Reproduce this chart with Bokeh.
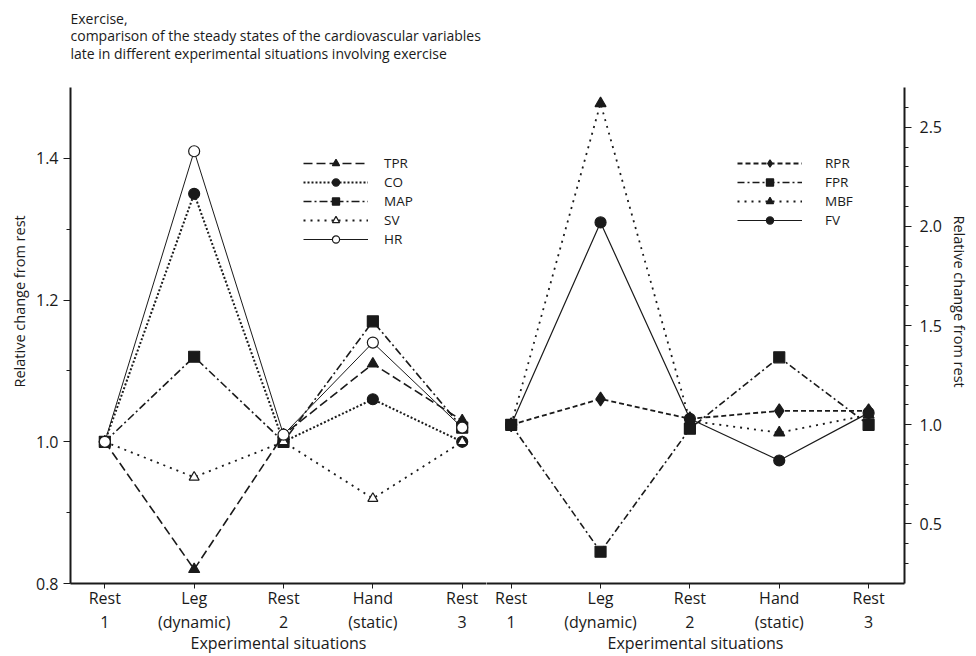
from bokeh.plotting import figure
from bokeh.layouts import row
from bokeh.models import (Range1d, FixedTicker, NumeralTickFormatter, CustomJSTickFormatter,
                          Legend, LegendItem, Title)
from bokeh.embed import file_html
from bokeh.resources import INLINE

# Experimental situations (shared by both panels)
situations = ["Rest\n1", "Leg\n(dynamic)", "Rest\n2", "Hand\n(static)", "Rest\n3"]

# Left panel: systemic variables, relative change from rest
tpr = [1.00, 0.82, 1.01, 1.11, 1.03]
co = [1.00, 1.35, 1.00, 1.06, 1.00]
map_ = [1.00, 1.12, 1.00, 1.17, 1.02]
sv = [1.00, 0.95, 1.00, 0.92, 1.00]
hr = [1.00, 1.41, 1.01, 1.14, 1.02]

# Right panel: regional variables, relative change from rest
rpr = [1.00, 1.13, 1.03, 1.07, 1.07]
fpr = [1.00, 0.36, 0.98, 1.34, 1.00]
mbf = [1.00, 2.62, 1.02, 0.96, 1.05]
fv = [1.00, 2.02, 1.03, 0.82, 1.06]

title_text = ("Exercise,\n"
              "comparison of the steady states of the cardiovascular variables\n"
              "late in different experimental situations involving exercise")
y_label = "Relative change from rest"
x_label = "Experimental situations"

FONT = "Open Sans"
INK = "#1a1a1a"
xs = list(range(len(situations)))


def base_figure(width, x_range, y_range, y_loc, border_left, border_right, label_offset):
    f = figure(width=width, height=656, x_range=x_range, y_range=y_range,
               y_axis_location=y_loc, output_backend="svg", toolbar_location=None,
               min_border_left=border_left, min_border_right=border_right,
               min_border_top=87, min_border_bottom=73)
    f.outline_line_color = None
    f.xgrid.grid_line_color = None
    f.ygrid.grid_line_color = None
    f.background_fill_color = "white"
    f.border_fill_color = "white"
    for ax in (f.xaxis[0], f.yaxis[0]):
        ax.axis_line_color = INK
        ax.axis_line_width = 2
        ax.major_tick_line_color = INK
        ax.minor_tick_line_color = INK
        ax.major_tick_in = 0
        ax.minor_tick_in = 0
        ax.major_label_text_font = FONT
        ax.major_label_text_color = INK
        ax.major_label_text_font_size = "16px"
        ax.axis_label_text_font = FONT
        ax.axis_label_text_font_style = "normal"
        ax.axis_label_text_color = INK
        ax.axis_label_text_font_size = "16px"

    xa = f.xaxis[0]
    xa.ticker = FixedTicker(ticks=xs, minor_ticks=[])
    xa.formatter = CustomJSTickFormatter(args=dict(labels=situations),
                                         code="return labels[index];")
    xa.major_tick_out = 5
    xa.minor_tick_out = 0
    xa.major_label_text_line_height = 1.1
    xa.major_label_standoff = -2
    xa.axis_label = x_label
    xa.axis_label_standoff = -4

    ya = f.yaxis[0]
    ya.formatter = NumeralTickFormatter(format="0.0")
    ya.major_tick_out = 7
    ya.minor_tick_out = 4

    # vertical caption sits a little above the middle of the axis
    f.add_layout(Title(text=y_label, align="left", offset=label_offset, standoff=8,
                       text_font=FONT, text_font_size="14.5px",
                       text_font_style="normal", text_color=INK), y_loc)
    return f


def series(f, ys, dash, width, marker, size, fill):
    line = f.line(xs, ys, line_color=INK, line_width=width, line_dash=dash)
    mark = f.scatter(xs, ys, marker=marker, size=size, fill_color=fill,
                     line_color=INK, line_width=1.2)
    return [line, mark]


def make_legend(items, loc, standoff):
    return Legend(items=items, location=loc, glyph_width=65, glyph_height=18,
                  label_height=18, spacing=1, padding=0, margin=0,
                  label_standoff=standoff, border_line_color=None,
                  background_fill_alpha=0, label_text_font=FONT,
                  label_text_font_size="13.5px", label_text_color=INK)


# ---------------- left panel ----------------
left = base_figure(486, Range1d(-0.384, 4.272), Range1d(0.8, 1.5), "left", 70, 0, 196)
left.yaxis[0].ticker = FixedTicker(ticks=[0.8, 1.0, 1.2, 1.4], minor_ticks=[0.9, 1.1, 1.3])
left.yaxis[0].major_label_standoff = 5

left_specs = [
    ("TPR", tpr, "9 4", 1.6, "triangle", 11, INK),
    ("CO", co, "2 2", 2.0, "circle", 11, INK),
    ("MAP", map_, "8 3 2 3", 1.6, "square", 11, INK),
    ("SV", sv, "2 5", 1.8, "triangle", 10, "white"),
    ("HR", hr, "solid", 1.0, "circle", 11, "white"),
]
left_items = [LegendItem(label=name, renderers=series(left, ys, d, w, mk, sz, fc))
              for name, ys, d, w, mk, sz, fc in left_specs]
left.add_layout(make_legend(left_items, (233, 335), 16))

# blank strip between the plot area and the heading block
left.add_layout(Title(text=" ", text_font_size="10px", standoff=9), "above")
left.add_layout(Title(text=title_text, align="left", offset=0, standoff=0,
                      vertical_align="top",
                      text_font=FONT, text_font_size="14px", text_font_style="normal",
                      text_color=INK, text_line_height=0.94), "above")

# ---------------- right panel ----------------
right = base_figure(490, Range1d(-0.2764, 4.4018), Range1d(0.2, 2.7), "right", 0, 72, 128)
right.yaxis[0].ticker = FixedTicker(ticks=[0.5, 1.0, 1.5, 2.0, 2.5],
                                    minor_ticks=[round(0.3 + 0.1 * k, 1) for k in range(24)])
right.yaxis[0].major_label_standoff = 8

right_specs = [
    ("RPR", rpr, "5 3", 1.8, "diamond", 14, INK),
    ("FPR", fpr, "7 3 2 3", 1.6, "square", 11, INK),
    ("MBF", mbf, "2 5", 1.8, "triangle", 11, INK),
    ("FV", fv, "solid", 1.2, "circle", 11, INK),
]
right_items = [LegendItem(label=name, renderers=series(right, ys, d, w, mk, sz, fc))
               for name, ys, d, w, mk, sz, fc in right_specs]
right.add_layout(make_legend(right_items, (251, 354), 23))

layout = row(left, right)
open("out.html", "w").write(file_html(layout, INLINE))
